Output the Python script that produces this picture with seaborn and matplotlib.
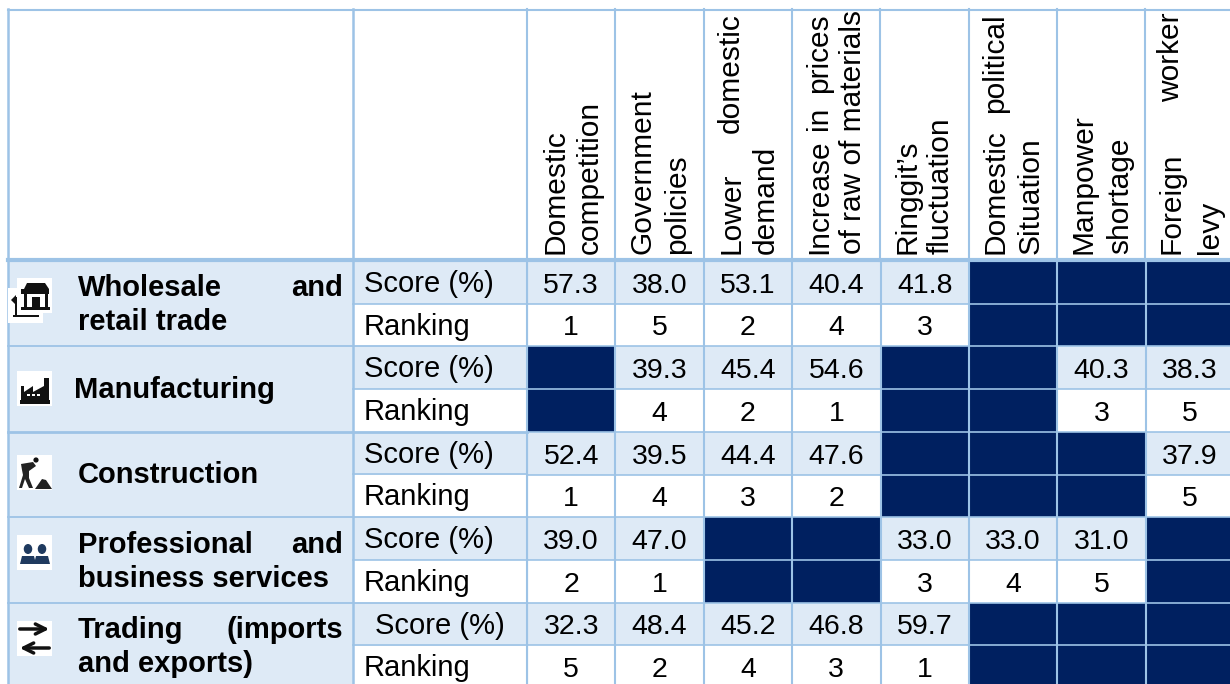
import numpy as np
import matplotlib.pyplot as plt
import matplotlib.patches as mpatches
from matplotlib.colors import ListedColormap
import seaborn as sns

# table content, None = blanked out cell
score_wholesale = [57.3, 38.0, 53.1, 40.4, 41.8, None, None, None]
rank_wholesale = [1, 5, 2, 4, 3, None, None, None]
score_manufacturing = [None, 39.3, 45.4, 54.6, None, None, 40.3, 38.3]
rank_manufacturing = [None, 4, 2, 1, None, None, 3, 5]
score_construction = [52.4, 39.5, 44.4, 47.6, None, None, None, 37.9]
rank_construction = [1, 4, 3, 2, None, None, None, 5]
score_professional = [39.0, 47.0, None, None, 33.0, 33.0, 31.0, None]
rank_professional = [2, 1, None, None, 3, 4, 5, None]
score_trading = [32.3, 48.4, 45.2, 46.8, 59.7, None, None, None]
rank_trading = [5, 2, 4, 3, 1, None, None, None]

score_rows = [score_wholesale, score_manufacturing, score_construction, score_professional, score_trading]
rank_rows = [rank_wholesale, rank_manufacturing, rank_construction, rank_professional, rank_trading]

header_lines = [
    ("Domestic", "", "competition"),
    ("Government", "", "policies"),
    ("Lower", "domestic", "demand"),
    ("Increase", "prices", "of raw of materials"),
    ("Ringgit\u2019s", "", "fluctuation"),
    ("Domestic", "political", "Situation"),
    ("Manpower", "", "shortage"),
    ("Foreign", "worker", "levy"),
]

LINE = "#9DC3E6"
PALE = "#DEEAF6"
NAVY = "#002060"

plt.rcParams['font.family'] = ['Liberation Sans', 'DejaVu Sans']

# build heatmap matrices
kinds, labels = [], []
for sc, rk in zip(score_rows, rank_rows):
    kinds.append([np.nan if v is None else 1 for v in sc])
    labels.append(["" if v is None else f"{v:.1f}" for v in sc])
    kinds.append([np.nan if v is None else 0 for v in rk])
    labels.append(["" if v is None else str(v) for v in rk])
kinds = np.array(kinds, dtype=float)
labels = np.array(labels)

W, H = 1230, 684
fig = plt.figure(figsize=(W / 100, H / 100), dpi=100, facecolor='white')

# numeric part of the table, runs a little past the picture edge like the original
ax = fig.add_axes([527 / W, -4 / H, 707 / W, 427 / H], zorder=1)
ax.set_facecolor(NAVY)
sns.heatmap(kinds, ax=ax, cmap=ListedColormap(["white", PALE]), vmin=0, vmax=1,
            annot=labels, fmt="", annot_kws={'fontsize': 20.5, 'color': 'black'},
            cbar=False, xticklabels=False, yticklabels=False)
ax.tick_params(length=0)
ax.hlines(range(11), 0, 8, color=LINE, lw=1.2)
ax.vlines(range(9), 0, 10, color=LINE, lw=1.5)
for t in ax.texts:
    px, py = t.get_position()
    t.set_position((px, py + 0.08))

# overlay in pixel coordinates for header, labels and icons
ov = fig.add_axes([0, 0, 1, 1], zorder=2)
ov.set_xlim(0, W)
ov.set_ylim(H, 0)
ov.axis('off')
ov.patch.set_alpha(0)

ov.add_patch(mpatches.Rectangle((8, 261), 345, H - 261, color=PALE, lw=0))
row_tops = [261, 304, 346, 389, 432, 474, 517, 560, 603, 645]
for i, y in enumerate(row_tops):
    if i % 2 == 0:
        ov.add_patch(mpatches.Rectangle((353, y), 174, 43, color=PALE, lw=0))

# grid lines of the left part and header
col_x = [527, 615, 704, 792, 880, 969, 1057, 1145]
ov.plot([8, W], [9.5, 9.5], color=LINE, lw=1.5)
ov.plot([8, 8], [9, H], color=LINE, lw=1.8)
ov.plot([353, 353], [9, H], color=LINE, lw=1.8)
ov.plot([527, 527], [9, H], color=LINE, lw=1.5)
for x in col_x[1:]:
    ov.plot([x, x], [9, 261], color=LINE, lw=1.5)
ov.plot([8, W], [260, 260], color=LINE, lw=3)
for y in [346, 432, 517, 603]:
    ov.plot([8, 527], [y, y], color=LINE, lw=2 if y == 432 else 1.3)
for y in [304, 389, 474, 560, 645]:
    ov.plot([353, 527], [y, y], color=LINE, lw=1.2)

# header text, rotated, two lines per column
line1_x = [555, 642, 731, 819, 907, 995, 1083, 1171]
line2_x = [590, 677, 766, 853, 941, 1031, 1120, 1210]
for (a, a_top, b), x1, x2 in zip(header_lines, line1_x, line2_x):
    ov.text(x1, 254, a, rotation=90, ha='center', va='bottom', fontsize=21.5)
    if a_top:
        ov.text(x1, 13, a_top, rotation=90, ha='center', va='top', fontsize=21.5)
    ov.text(x2, 254, b, rotation=90, ha='center', va='bottom', fontsize=21.5)
# justified middle word of the fourth header
ov.text(819, 118, "in", rotation=90, ha='center', va='center', fontsize=21.5)

# row type labels
for i, y in enumerate(row_tops):
    kind = "Score (%)" if i % 2 == 0 else "Ranking"
    ov.text(375 if i == 8 else 364, y + 23, kind, ha='left', va='center', fontsize=21)

# sector labels, justified lines are two texts
bold = dict(fontsize=21, fontweight='bold', va='center')
ov.text(78, 288, "Wholesale", ha='left', **bold)
ov.text(343, 288, "and", ha='right', **bold)
ov.text(78, 322, "retail trade", ha='left', **bold)
ov.text(74, 390, "Manufacturing", ha='left', **bold)
ov.text(78, 475, "Construction", ha='left', **bold)
ov.text(78, 545, "Professional", ha='left', **bold)
ov.text(343, 545, "and", ha='right', **bold)
ov.text(78, 579, "business services", ha='left', **bold)
ov.text(78, 630, "Trading", ha='left', **bold)
ov.text(343, 630, "(imports", ha='right', **bold)
ov.text(78, 664, "and exports)", ha='left', **bold)

# icons, rough shapes on white squares
ICON = "#111111"


def box(x, y, w=35, h=35):
    ov.add_patch(mpatches.Rectangle((x, y), w, h, color='white', lw=0, zorder=3))


def rect(x, y, w, h, c=ICON):
    ov.add_patch(mpatches.Rectangle((x, y), w, h, color=c, lw=0, zorder=4))


def poly(pts, c=ICON):
    ov.add_patch(mpatches.Polygon(pts, color=c, lw=0, zorder=4))


# shop
box(8, 288)
box(17, 278)
poly([(24, 289), (27, 283), (45, 283), (49, 289), (49, 294), (21, 294), (21, 289)])
rect(24, 294, 3, 13)
rect(45, 294, 3, 13)
rect(32, 297, 8, 10)
rect(21, 307, 29, 2.5)
rect(13, 315, 26, 1.5)
rect(15, 297, 2, 18)
poly([(11, 300), (16, 295), (16, 305)])

# factory
box(17, 371)
rect(20, 400, 30, 4)
rect(21, 386, 3, 14)
rect(44, 378, 5, 22)
poly([(24, 392), (33, 386), (33, 392), (44, 386), (44, 400), (24, 400)])
for px in (27, 32, 37):
    rect(px, 394, 2.5, 2, 'white')

# worker with shovel
box(17, 455)
ov.add_patch(mpatches.Circle((36, 460), 2.6, color=ICON, lw=0, zorder=4))
poly([(21, 464), (33, 462), (36, 466), (29, 471), (29, 478), (33, 488), (29, 488),
      (25, 479), (22, 488), (19, 488), (23, 475), (22, 470)], "#222222")
poly([(35, 489), (42, 479), (46, 480), (52, 489)], "#222222")

# people
box(17, 535)
for cx in (28, 42):
    ov.add_patch(mpatches.Ellipse((cx, 549), 8.5, 10, color="#1F3A5F", lw=0, zorder=4))
    poly([(cx - 8, 564), (cx - 6, 556), (cx + 6, 556), (cx + 8, 564)], "#1F3A5F")

# arrows
box(17, 621)
ov.annotate("", xy=(52, 629), xytext=(17, 629), zorder=5,
            arrowprops=dict(arrowstyle="->", color=ICON, lw=2.5, mutation_scale=18))
ov.annotate("", xy=(17, 648), xytext=(52, 648), zorder=5,
            arrowprops=dict(arrowstyle="->", color=ICON, lw=2.5, mutation_scale=18))

fig.savefig("out.png", dpi=100)
